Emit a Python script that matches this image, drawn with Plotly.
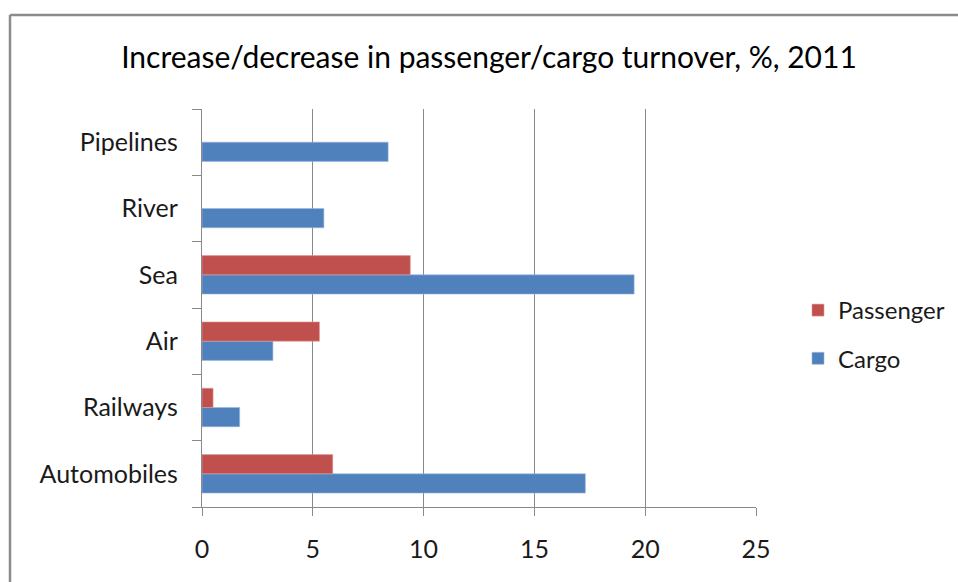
import plotly.graph_objects as go

# Transport modes, bottom to top
categories = ["Automobiles", "Railways", "Air", "Sea", "River", "Pipelines"]
cargo = [17.3, 1.7, 3.2, 19.5, 5.5, 8.4]
passenger = [5.9, 0.5, 5.3, 9.4, None, None]
x_ticks = [0, 5, 10, 15, 20, 25]

title_text = "Increase/decrease in passenger/cargo turnover, %, 2011"
FONT = "Lato"
GRID = "#898989"
TXT = "#1a1a1a"

fig = go.Figure()
fig.add_trace(go.Bar(
    y=categories, x=cargo, name="Cargo", orientation="h",
    marker=dict(color="#4F81BD", line=dict(color="#9DB7DC", width=0.6)),
    legendgroup="g2", legendrank=2,
))
fig.add_trace(go.Bar(
    y=categories, x=passenger, name="Passenger", orientation="h",
    marker=dict(color="#C0504D", line=dict(color="#DD9A98", width=0.6)),
    legendgroup="g1", legendrank=1,
))

W, H = 958, 582
L, R, T, B = 202, 202, 109, 75
pw, ph = W - L - R, H - T - B

def px(x):
    return (x - L) / pw

def py(y):
    return (H - B - y) / ph

fig.update_layout(
    width=W, height=H,
    margin=dict(l=L, r=R, t=T, b=B, autoexpand=False),
    paper_bgcolor="white", plot_bgcolor="white",
    barmode="group", bargap=0.42, bargroupgap=0,
    font=dict(family=FONT, color=TXT, size=25),
    title=dict(text=title_text, x=489 / W, xref="container", xanchor="center",
               y=1 - 57 / H, yanchor="middle",
               font=dict(family=FONT, size=30, color="#000000")),
    showlegend=True,
    legend=dict(
        traceorder="grouped", tracegroupgap=14,
        x=px(798), y=py(288), xanchor="left", yanchor="top",
        font=dict(family=FONT, size=24, color=TXT),
        itemwidth=30, bgcolor="rgba(0,0,0,0)",
    ),
    xaxis=dict(
        range=[0, 25], tickvals=x_ticks, ticktext=[str(v) for v in x_ticks],
        showgrid=True, gridcolor=GRID, gridwidth=1.3,
        showline=True, linecolor=GRID, linewidth=1.3,
        ticks="outside", ticklen=8, tickcolor=GRID, tickwidth=1.3,
        tickfont=dict(family=FONT, size=25, color=TXT),
        ticklabelstandoff=12, zeroline=False, fixedrange=True,
    ),
    yaxis=dict(
        categoryorder="array", categoryarray=categories,
        showgrid=False, showline=True, linecolor=GRID, linewidth=1.3,
        ticks="outside", ticklen=9, tickcolor=GRID, tickwidth=1.3,
        tickson="boundaries",
        tickfont=dict(family=FONT, size=25, color=TXT),
        ticklabelstandoff=18, fixedrange=True,
    ),
    shapes=[
        dict(type="line", xref="paper", yref="paper",
             x0=px(10), x1=px(980), y0=py(15), y1=py(15),
             line=dict(color="#8c8c8c", width=2.5)),
        dict(type="line", xref="paper", yref="paper",
             x0=px(10), x1=px(10), y0=py(15), y1=py(600),
             line=dict(color="#8c8c8c", width=2.5)),
    ],
)

fig.write_html("out.html")
